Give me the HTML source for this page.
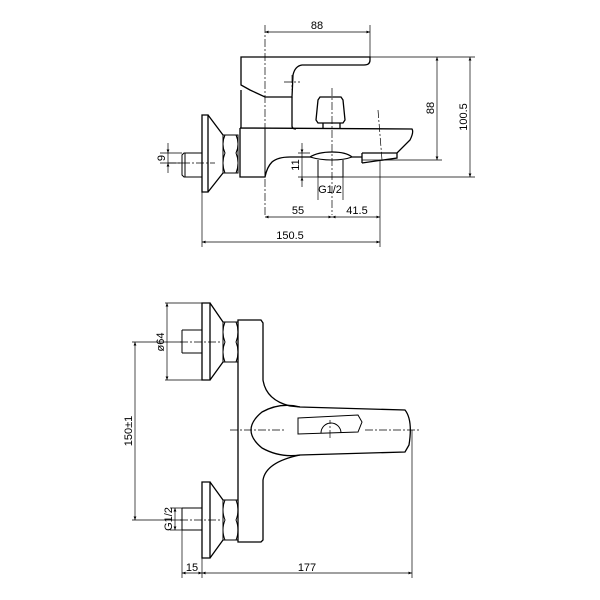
<!DOCTYPE html>
<html><head><style>html,body{margin:0;padding:0;background:#fff}svg{display:block}</style></head><body>
<svg width="600" height="600" viewBox="0 0 600 600" xmlns="http://www.w3.org/2000/svg" font-family="Liberation Sans, sans-serif" font-size="11">
<defs><marker id="a" viewBox="0 0 10 10" refX="10" refY="5" markerWidth="7" markerHeight="5" orient="auto-start-reverse"><path d="M0,1 L10,5 L0,9z" fill="#000"/></marker></defs>
<g fill="none" stroke="#000" stroke-width="1">
<!-- TOP VIEW -->
<path d="M241,57 L370,57 L370,60 Q370,65 364,65 L302,65 Q295,66 293,75 L292,97 L288,97 L265,97 L250,90 L241,85 Z" stroke-width="1.3"/>
<path d="M241,90 L241,128 M292,97 L292,126 Q292,129 296,129" stroke-width="1.3"/>
<path d="M240,128 L412,129 Q414,132 410,140 L397,153 L362,153 M362,163 L397,158 L397,153 M362,153 L362,163 M240,128 L240,177 L265,177 Q267,167 272,162 Q278,157 290,157 L310,157 Q318,152 332,152 Q346,152 352,157 L362,157" stroke-width="1.3"/>
<path d="M310,157 Q320,160 332,160 Q344,160 352,157" />
<path d="M265,128 L265,177"/>
<path d="M320,97 L341,97 L343,100 L345,120 L343,123 L318,123 L316,120 L318,100 Z M323,123 L323,129 M340,123 L340,129" stroke-width="1.3"/>
<path d="M318,160 L318,177 M343,160 L343,177 M318,177 L343,177"/>
<path d="M223,135 L238,135 L238,173 L223,173 Z M225,135 Q221,144 225,153 Q221,163 225,173 M236,135 Q240,144 236,153 Q240,163 236,173" />
<path d="M202,115 L208,115 L208,192 L202,192 Z M208,115 L223,135 M208,192 L223,173" stroke-width="1.3"/>
<path d="M202,153 L184,153 L182,155 L182,175 L184,177 L202,177 M185,153 L185,177"/>
<g stroke-dasharray="8,2,2,2" stroke-width="0.7">
<path d="M265,25 L265,215 M332,88 L332,215 M168,163 L215,163 M284,82 L300,82 M292,75 L292,90 M378,110 L382,160"/>
</g>
<g stroke-width="0.7">
<path d="M370,25 L370,57 M370,57 L475,57 M362,160 L442,160 M343,177 L475,177 M380,160 L380,247 M202,192 L202,247 M343,177 L343,200 M318,177 L318,200 M298,153 L310,153 M298,177 L318,177 M160,153 L182,153 M160,163 L182,163"/>
<path d="M265,32 L370,32" marker-start="url(#a)" marker-end="url(#a)"/>
<path d="M437,57 L437,160" marker-start="url(#a)" marker-end="url(#a)"/>
<path d="M470,57 L470,177" marker-start="url(#a)" marker-end="url(#a)"/>
<path d="M265,217 L332,217" marker-start="url(#a)" marker-end="url(#a)"/>
<path d="M332,217 L380,217" marker-start="url(#a)" marker-end="url(#a)"/>
<path d="M202,242 L380,242" marker-start="url(#a)" marker-end="url(#a)"/>
<path d="M168,143 L168,153" marker-end="url(#a)"/><path d="M168,173 L168,163" marker-end="url(#a)"/>
<path d="M302,143 L302,153" marker-end="url(#a)"/><path d="M302,187 L302,177" marker-end="url(#a)"/>
<path d="M168,153 L168,163 M302,153 L302,177"/>
</g>

<!-- BOTTOM VIEW -->
<path d="M238,320 L261,320 L263,323 L263,380 Q266,400 290,406 L300,407 L405,410 Q413,420 409,445 L405,452 L300,455 Q266,462 263,480 L263,540 L261,542 L238,542 Z" stroke-width="1.3"/>
<path d="M300,407 Q280,402 262,412 Q240,430 262,448 Q280,458 300,455" stroke-width="1.3"/>
<path d="M298,418 L358,415 L362,422 L358,432 L298,434 Z"/>
<path d="M321,433 A10,10 0 0 1 341,433"/>
<path d="M223,322 L238,322 L238,362 L223,362 Z M225,322 Q221,332 225,342 Q221,352 225,362 M236,322 Q240,332 236,342 Q240,352 236,362"/>
<path d="M202,303 L210,303 L210,380 L202,380 Z M210,303 L223,322 M210,380 L223,362" stroke-width="1.3"/>
<path d="M182,330 L202,330 M182,353 L202,353 M182,330 L182,353"/>
<path d="M223,500 L238,500 L238,540 L223,540 Z M225,500 Q221,510 225,520 Q221,530 225,540 M236,500 Q240,510 236,520 Q240,530 236,540"/>
<path d="M202,482 L210,482 L210,558 L202,558 Z M210,482 L223,500 M210,558 L223,540" stroke-width="1.3"/>
<path d="M182,508 L202,508 M182,530 L202,530 M182,508 L182,530"/>
<g stroke-dasharray="8,2,2,2" stroke-width="0.7">
<path d="M180,342 L220,342 M180,520 L220,520 M230,430 L285,430 M365,430 L420,430 M330,438 L330,420"/>
</g>
<g stroke-width="0.7">
<path d="M165,303 L202,303 M165,380 L202,380 M132,342 L182,342 M132,520 L182,520 M170,508 L182,508 M170,530 L182,530 M412,430 L412,578 M182,530 L182,578 M202,558 L202,578"/>
<path d="M167,303 L167,380" marker-start="url(#a)" marker-end="url(#a)"/>
<path d="M135,342 L135,520" marker-start="url(#a)" marker-end="url(#a)"/>
<path d="M175,508 L175,530" marker-start="url(#a)" marker-end="url(#a)"/>
<path d="M182,573 L202,573" marker-start="url(#a)" marker-end="url(#a)"/>
<path d="M202,573 L412,573" marker-start="url(#a)" marker-end="url(#a)"/>
</g>
</g>
<g fill="#000">
<text x="317" y="29" text-anchor="middle">88</text>
<text x="298" y="214" text-anchor="middle">55</text>
<text x="357" y="214" text-anchor="middle">41.5</text>
<text x="290" y="239" text-anchor="middle">150.5</text>
<text x="330" y="193" text-anchor="middle">G1/2</text>
<text transform="translate(434,108) rotate(-90)" text-anchor="middle">88</text>
<text transform="translate(467,117) rotate(-90)" text-anchor="middle">100.5</text>
<text transform="translate(165,158) rotate(-90)" text-anchor="middle">9</text>
<text transform="translate(299,165) rotate(-90)" text-anchor="middle">11</text>
<text transform="translate(164,342) rotate(-90)" text-anchor="middle">ø64</text>
<text transform="translate(132,431) rotate(-90)" text-anchor="middle">150±1</text>
<text transform="translate(172,519) rotate(-90)" text-anchor="middle">G1/2</text>
<text x="192" y="571" text-anchor="middle">15</text>
<text x="307" y="571" text-anchor="middle">177</text>
</g>
</svg>
</body></html>
